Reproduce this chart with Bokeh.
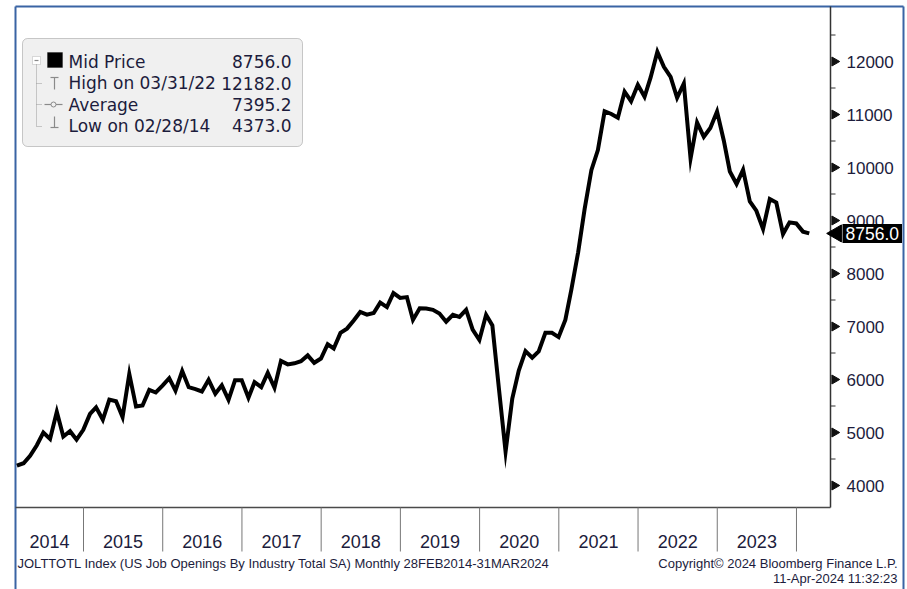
import math
import calendar
import datetime as dt

from bokeh.plotting import figure
from bokeh.models import Range1d, Label, BoxAnnotation
from bokeh.core.properties import value
from bokeh.embed import file_html
from bokeh.resources import INLINE

# ---------------- data ----------------
first_year, first_month = 2014, 2          # Feb 2014 (month-end observations)
job_openings = [
    # 2014 (Feb..Dec)
    4373, 4420, 4560, 4760, 5000, 4880, 5390, 4925, 5025, 4865, 5050,
    # 2015
    5350, 5475, 5240, 5620, 5590, 5290, 6105, 5490, 5510, 5805, 5755, 5885,
    # 2016
    6025, 5790, 6160, 5855, 5820, 5775, 5995, 5730, 5890, 5615, 5985, 5985,
    # 2017
    5655, 5950, 5855, 6125, 5845, 6350, 6285, 6305, 6345, 6455, 6315, 6395,
    # 2018
    6665, 6585, 6880, 6960, 7115, 7275, 7225, 7255, 7450, 7365, 7630, 7540,
    # 2019
    7555, 7125, 7345, 7340, 7315, 7245, 7090, 7220, 7180, 7315, 6940, 6745,
    # 2020
    7220, 7020, 5800, 4640, 5640, 6170, 6535, 6410, 6530, 6880, 6880, 6800,
    # 2021
    7125, 7700, 8400, 9220, 9950, 10330, 11060, 11010, 10940, 11430, 11250, 11560,
    # 2022
    11335, 11700, 12182, 11900, 11710, 11315, 11585, 10170, 10850, 10580, 10745, 11055,
    # 2023
    10510, 9925, 9690, 9955, 9360, 9185, 8840, 9405, 9340, 8745, 8965, 8945,
    # 2024 (Jan, Feb)
    8790, 8756,
]
year_labels = ["2014", "2015", "2016", "2017", "2018", "2019", "2020", "2021", "2022", "2023"]
y_ticks = [4000, 5000, 6000, 7000, 8000, 9000, 10000, 11000, 12000]
legend_names = ["Mid Price", "High on 03/31/22", "Average", "Low on 02/28/14"]
legend_values = ["8756.0", "12182.0", "7395.2", "4373.0"]
last_label = "8756.0"
footer_left = "JOLTTOTL Index (US Job Openings By Industry Total SA)  Monthly 28FEB2014-31MAR2024"
footer_right = "Copyright\u00a9 2024 Bloomberg Finance L.P."
footer_time = "11-Apr-2024 11:32:23"


# ---------------- x positions: month-end dates as decimal years ----------------
def month_end_decimal(k):
    m0 = first_month - 1 + k
    y = first_year + m0 // 12
    m = m0 % 12 + 1
    d = dt.date(y, m, calendar.monthrange(y, m)[1])
    start = dt.date(y, 1, 1)
    days = (dt.date(y + 1, 1, 1) - start).days
    return y + (d - start).days / days


xs = [month_end_decimal(k) for k in range(len(job_openings))]

# ---------------- geometry: canvas pixel <-> data ----------------
W, H = 905, 589
PX_PER_YEAR = 79.22          # horizontal scale
PX_PER_UNIT = 0.053          # vertical scale (53 px per 1000)
REF_YEAR_PX = 83             # pixel of the 2015 boundary
REF_VAL_PX = 61              # pixel of the 12000 tick


def sx(px):
    return float(year_labels[1]) + (px - REF_YEAR_PX) / PX_PER_YEAR


def sy(py):
    return y_ticks[-1] + (REF_VAL_PX - py) / PX_PER_UNIT


PLOT_L, PLOT_R, PLOT_T, PLOT_B = 15, 830, 6, 507
axis_x = sx(PLOT_R)

p = figure(
    width=W, height=H,
    x_range=Range1d(sx(0), sx(W)), y_range=Range1d(sy(H), sy(0)),
    x_axis_location=None, y_axis_location=None,
    toolbar_location=None, output_backend="svg",
    min_border_left=0, min_border_right=0, min_border_top=0, min_border_bottom=0,
)
p.outline_line_color = None
p.xgrid.visible = False
p.ygrid.visible = False
p.background_fill_color = "white"
p.border_fill_color = "white"

TXT = "#1c1c3c"

# ---------------- outer blue frame ----------------
p.segment(x0=[sx(PLOT_L), sx(903), sx(PLOT_L)], y0=[sy(PLOT_T), sy(PLOT_T), sy(PLOT_T)],
          x1=[sx(PLOT_L), sx(903), sx(903)], y1=[sy(H + 5), sy(H + 5), sy(PLOT_T)],
          line_color="#3a64a4", line_width=2)

# ---------------- main line ----------------
p.line(xs, job_openings, line_color="black", line_width=4, line_join="miter")

# ---------------- right value axis ----------------
p.segment(x0=[axis_x], x1=[axis_x], y0=[sy(PLOT_T)], y1=[sy(PLOT_B)],
          line_color="#333333", line_width=1.5)
p.scatter([axis_x + 4 / PX_PER_YEAR] * len(y_ticks), y_ticks, marker="triangle",
          angle=-math.pi / 2, size=9, color="#111111")
step = y_ticks[1] - y_ticks[0]
minor_vals = [t + step / 2 for t in y_ticks]
p.segment(x0=[axis_x] * len(minor_vals), x1=[axis_x + 5 / PX_PER_YEAR] * len(minor_vals),
          y0=minor_vals, y1=minor_vals, line_color="#333333", line_width=1)
p.text(x=[sx(846)] * len(y_ticks), y=y_ticks, text=[str(t) for t in y_ticks],
       text_font=value("Liberation Sans"), text_font_size="17px", text_color=TXT,
       text_align="left", text_baseline="middle")

# bottom border of the plot area
p.segment(x0=[sx(PLOT_L)], x1=[axis_x], y0=[sy(PLOT_B)], y1=[sy(PLOT_B)],
          line_color="#4a4a4a", line_width=1.5)

# ---------------- time axis: year labels between year separators ----------------
bounds = [float(y) for y in year_labels[1:]] + [float(year_labels[-1]) + 1]
centers = [(sx(PLOT_L) + bounds[0]) / 2] + [float(y) + 0.5 for y in year_labels[1:]]
p.segment(x0=bounds, x1=bounds, y0=[sy(PLOT_B)] * len(bounds), y1=[sy(551)] * len(bounds),
          line_color="#777777", line_width=1)
p.text(x=centers, y=[sy(541)] * len(centers), text=year_labels,
       text_font=value("Liberation Sans"), text_font_size="18px", text_color=TXT,
       text_align="center", text_baseline="middle")

# ---------------- last value tag ----------------
p.scatter([sx(836)], [job_openings[-1]], marker="triangle", angle=math.pi / 2, size=17,
          color="black")
p.add_layout(Label(x=sx(842), y=job_openings[-1], text=last_label, text_color="white",
                   text_font="Liberation Sans", text_font_size="17.5px",
                   text_baseline="middle", text_align="left",
                   background_fill_color="black", padding=3))

# ---------------- legend box ----------------
p.add_layout(BoxAnnotation(left=sx(22), right=sx(302), top=sy(38), bottom=sy(146),
                           fill_color="#f0f0f0", fill_alpha=1, line_color="#555555",
                           line_width=1, border_radius=5))
row_y = [61, 82.5, 104, 125]
for name, val, ry in zip(legend_names, legend_values, row_y):
    p.add_layout(Label(x=sx(68), y=sy(ry), text=name, text_font="DejaVu Sans",
                       text_font_size="17px", text_color=TXT,
                       text_baseline="middle", text_align="left"))
    p.add_layout(Label(x=sx(291), y=sy(ry), text=val, text_font="DejaVu Sans",
                       text_font_size="17px", text_color=TXT,
                       text_baseline="middle", text_align="right"))

# legend icons
p.add_layout(BoxAnnotation(left=sx(47), right=sx(62), top=sy(52), bottom=sy(67),
                           fill_color="black", fill_alpha=1, line_color="black"))
p.add_layout(BoxAnnotation(left=sx(32), right=sx(40), top=sy(56), bottom=sy(64),
                           fill_color="white", fill_alpha=1, line_color="#8a8a8a"))
icon_segs = [
    (34, 60, 38, 60),                        # minus in expander
    (54, 77, 54, 89), (50, 77, 58, 77),      # high icon
    (44, 104, 62, 104),                      # average icon
    (54, 116, 54, 127), (50, 127, 58, 127),  # low icon
]
p.segment(x0=[sx(a) for a, _, _, _ in icon_segs], y0=[sy(b) for _, b, _, _ in icon_segs],
          x1=[sx(c) for _, _, c, _ in icon_segs], y1=[sy(d) for _, _, _, d in icon_segs],
          line_color="#8a8a8a", line_width=1.2, level="overlay")
tree_segs = [(36, 64, 36, 126), (36, 83, 42, 83), (36, 104, 42, 104), (36, 126, 42, 126)]
p.segment(x0=[sx(a) for a, _, _, _ in tree_segs], y0=[sy(b) for _, b, _, _ in tree_segs],
          x1=[sx(c) for _, _, c, _ in tree_segs], y1=[sy(d) for _, _, _, d in tree_segs],
          line_color="#9a9a9a", line_width=1, line_dash="1 1", level="overlay")
p.scatter([sx(53)], [sy(104)], marker="circle", size=5, fill_color="#f0f0f0",
          line_color="#8a8a8a", level="overlay")

# ---------------- footer ----------------
p.add_layout(Label(x=sx(17), y=sy(563), text=footer_left, text_font="Liberation Sans",
                   text_font_size="13px", text_color=TXT,
                   text_baseline="middle", text_align="left"))
p.add_layout(Label(x=sx(897), y=sy(563), text=footer_right, text_font="Liberation Sans",
                   text_font_size="13px", text_color=TXT,
                   text_baseline="middle", text_align="right"))
p.add_layout(Label(x=sx(897), y=sy(578), text=footer_time, text_font="Liberation Sans",
                   text_font_size="13px", text_color=TXT,
                   text_baseline="middle", text_align="right"))

open("out.html", "w").write(file_html(p, INLINE))
